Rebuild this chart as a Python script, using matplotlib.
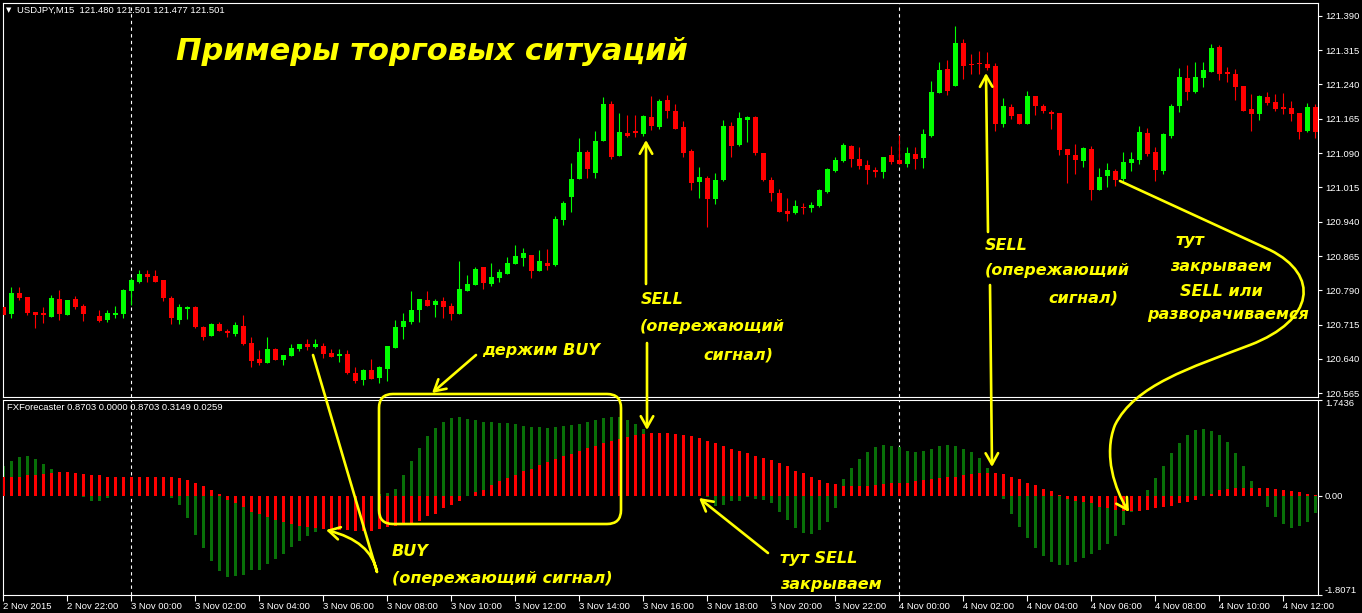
import numpy as np
import matplotlib
matplotlib.use('agg')
import matplotlib.pyplot as plt
from matplotlib.path import Path
from matplotlib.patches import FancyArrowPatch, FancyBboxPatch

# USDJPY M15 candles, 2 Nov 2015 20:00 onwards (bar 11 has no data)
opens = [120.754, 120.738, 120.784, 120.776, 120.743, 120.741, 120.732, 120.771, 120.737, 120.771,
         120.756, np.nan, 120.734, 120.725, 120.737, 120.739, 120.789, 120.808, 120.826, 120.821,
         120.813, 120.773, 120.726, 120.750, 120.754, 120.710, 120.690, 120.716, 120.701, 120.695,
         120.712, 120.675, 120.640, 120.631, 120.662, 120.638, 120.647, 120.662, 120.673, 120.666,
         120.668, 120.653, 120.647, 120.651, 120.609, 120.594, 120.616, 120.598, 120.618, 120.664,
         120.710, 120.721, 120.747, 120.769, 120.758, 120.767, 120.756, 120.738, 120.789, 120.802,
         120.841, 120.804, 120.817, 120.826, 120.848, 120.861, 120.867, 120.832, 120.850, 120.845,
         120.944, 120.994, 121.034, 121.093, 121.047, 121.117, 121.198, 121.084, 121.134, 121.139,
         121.132, 121.169, 121.147, 121.206, 121.182, 121.147, 121.095, 121.027, 121.036, 120.990,
         121.031, 121.150, 121.108, 121.163, 121.169, 121.090, 121.031, 121.003, 120.964, 120.959,
         120.972, 120.970, 120.975, 121.005, 121.051, 121.073, 121.106, 121.077, 121.064, 121.053,
         121.049, 121.086, 121.075, 121.066, 121.088, 121.080, 121.128, 121.222, 121.274, 121.237,
         121.331, 121.285, 121.285, 121.285, 121.281, 121.154, 121.191, 121.176, 121.154, 121.215,
         121.193, 121.180, 121.178, 121.099, 121.086, 121.073, 121.099, 121.010, 121.040, 121.051,
         121.034, 121.069, 121.075, 121.134, 121.093, 121.051, 121.128, 121.193, 121.254, 121.224,
         121.254, 121.268, 121.322, 121.268, 121.263, 121.237, 121.187, 121.176, 121.213, 121.202,
         121.191, 121.189, 121.178, 121.139, 121.191]
highs = [120.758, 120.797, 120.797, 120.776, 120.743, 120.754, 120.780, 120.791, 120.769, 120.778,
         120.761, np.nan, 120.747, 120.747, 120.756, 120.793, 120.817, 120.835, 120.835, 120.835,
         120.813, 120.778, 120.760, 120.756, 120.756, 120.712, 120.719, 120.721, 120.706, 120.721,
         120.736, 120.688, 120.660, 120.688, 120.664, 120.649, 120.673, 120.673, 120.684, 120.684,
         120.675, 120.662, 120.662, 120.660, 120.622, 120.618, 120.640, 120.625, 120.668, 120.725,
         120.741, 120.789, 120.771, 120.789, 120.771, 120.776, 120.762, 120.854, 120.824, 120.841,
         120.841, 120.850, 120.837, 120.863, 120.889, 120.883, 120.867, 120.878, 120.881, 120.953,
         120.985, 121.069, 121.123, 121.097, 121.139, 121.213, 121.204, 121.178, 121.174, 121.174,
         121.174, 121.215, 121.208, 121.217, 121.198, 121.160, 121.099, 121.060, 121.040, 121.047,
         121.163, 121.158, 121.180, 121.171, 121.171, 121.090, 121.038, 121.012, 120.992, 120.988,
         120.981, 120.983, 121.012, 121.058, 121.082, 121.112, 121.108, 121.104, 121.075, 121.060,
         121.082, 121.106, 121.130, 121.104, 121.104, 121.143, 121.248, 121.289, 121.294, 121.368,
         121.340, 121.307, 121.313, 121.311, 121.287, 121.211, 121.198, 121.176, 121.226, 121.215,
         121.198, 121.185, 121.178, 121.099, 121.110, 121.104, 121.106, 121.058, 121.069, 121.055,
         121.093, 121.093, 121.150, 121.145, 121.104, 121.134, 121.198, 121.276, 121.283, 121.289,
         121.289, 121.329, 121.327, 121.279, 121.274, 121.237, 121.219, 121.217, 121.224, 121.219,
         121.222, 121.204, 121.178, 121.200, 121.198]
lows = [120.732, 120.730, 120.769, 120.737, 120.708, 120.719, 120.732, 120.726, 120.737, 120.750,
        120.724, np.nan, 120.721, 120.721, 120.730, 120.730, 120.759, 120.806, 120.808, 120.808,
        120.767, 120.717, 120.717, 120.728, 120.708, 120.682, 120.690, 120.701, 120.689, 120.690,
        120.671, 120.622, 120.627, 120.631, 120.638, 120.627, 120.647, 120.657, 120.660, 120.664,
        120.642, 120.644, 120.633, 120.607, 120.587, 120.583, 120.596, 120.587, 120.592, 120.664,
        120.684, 120.716, 120.721, 120.756, 120.732, 120.730, 120.725, 120.738, 120.789, 120.802,
        120.793, 120.800, 120.808, 120.826, 120.848, 120.843, 120.817, 120.832, 120.835, 120.843,
        120.933, 120.961, 121.034, 121.036, 121.036, 121.117, 121.077, 121.084, 121.125, 121.125,
        121.128, 121.141, 121.143, 121.167, 121.143, 121.082, 121.010, 120.992, 120.929, 120.979,
        121.029, 121.082, 121.106, 121.114, 121.086, 121.029, 120.985, 120.961, 120.942, 120.957,
        120.957, 120.961, 120.972, 121.003, 121.049, 121.071, 121.060, 121.055, 121.023, 121.038,
        121.036, 121.066, 121.066, 121.060, 121.055, 121.058, 121.125, 121.222, 121.217, 121.237,
        121.252, 121.263, 121.263, 121.272, 121.139, 121.147, 121.165, 121.154, 121.154, 121.174,
        121.178, 121.143, 121.086, 121.025, 121.044, 121.060, 120.988, 121.010, 121.016, 121.018,
        121.029, 121.051, 121.066, 121.084, 121.029, 121.044, 121.123, 121.180, 121.206, 121.222,
        121.235, 121.268, 121.250, 121.246, 121.206, 121.182, 121.139, 121.163, 121.195, 121.182,
        121.176, 121.160, 121.121, 121.136, 121.123]
closes = [120.736, 120.784, 120.774, 120.741, 120.737, 120.736, 120.773, 120.739, 120.769, 120.754,
          120.739, np.nan, 120.723, 120.741, 120.741, 120.791, 120.813, 120.826, 120.819, 120.808,
          120.774, 120.730, 120.754, 120.754, 120.710, 120.688, 120.716, 120.701, 120.697, 120.714,
          120.673, 120.636, 120.631, 120.662, 120.638, 120.649, 120.664, 120.673, 120.666, 120.673,
          120.651, 120.644, 120.651, 120.609, 120.592, 120.616, 120.596, 120.622, 120.668, 120.710,
          120.723, 120.747, 120.771, 120.756, 120.767, 120.754, 120.738, 120.793, 120.804, 120.837,
          120.806, 120.819, 120.830, 120.850, 120.865, 120.872, 120.832, 120.854, 120.844, 120.946,
          120.981, 121.034, 121.093, 121.055, 121.117, 121.198, 121.082, 121.136, 121.128, 121.134,
          121.171, 121.150, 121.204, 121.182, 121.143, 121.090, 121.025, 121.038, 120.990, 121.031,
          121.150, 121.106, 121.167, 121.169, 121.090, 121.031, 121.003, 120.961, 120.957, 120.975,
          120.970, 120.977, 121.010, 121.055, 121.075, 121.108, 121.077, 121.062, 121.053, 121.049,
          121.082, 121.071, 121.066, 121.090, 121.077, 121.132, 121.224, 121.272, 121.226, 121.331,
          121.281, 121.283, 121.284, 121.276, 121.154, 121.193, 121.171, 121.154, 121.215, 121.193,
          121.182, 121.176, 121.097, 121.086, 121.075, 121.101, 121.010, 121.038, 121.053, 121.031,
          121.071, 121.077, 121.136, 121.088, 121.053, 121.132, 121.193, 121.257, 121.224, 121.257,
          121.272, 121.320, 121.263, 121.263, 121.235, 121.182, 121.176, 121.215, 121.200, 121.187,
          121.187, 121.176, 121.136, 121.191, 121.136]

# FXForecaster histogram buffers
fx_green = [0.533, 0.624, 0.691, 0.709, 0.655, 0.564, 0.473, 0.35, 0.25, 0.12,
            -0.03, -0.103, -0.103, -0.048, 0.02, 0.08, 0.1, 0.1, 0.08, 0.05,
            0.0, -0.05, -0.164, -0.406, -0.709, -0.958, -1.194, -1.364, -1.473, -1.467,
            -1.436, -1.358, -1.345, -1.236, -1.145, -1.055, -0.939, -0.830, -0.739, -0.667,
            -0.55, -0.45, -0.35, -0.25, -0.15, -0.05, 0.0, 0.02, 0.05, 0.127,
            0.364, 0.618, 0.855, 1.073, 1.218, 1.327, 1.400, 1.418, 1.382, 1.364,
            1.327, 1.327, 1.309, 1.309, 1.291, 1.255, 1.236, 1.236, 1.218, 1.236,
            1.255, 1.273, 1.291, 1.327, 1.364, 1.400, 1.418, 1.418, 1.364, 1.291,
            1.200, 1.05, 0.85, 0.65, 0.45, 0.3, 0.12, -0.018, -0.036, -0.182,
            -0.164, -0.091, -0.091, -0.036, -0.055, -0.073, -0.145, -0.291, -0.436, -0.582,
            -0.673, -0.691, -0.618, -0.473, -0.218, 0.291, 0.491, 0.655, 0.782, 0.873,
            0.909, 0.897, 0.873, 0.800, 0.782, 0.800, 0.836, 0.891, 0.909, 0.891,
            0.836, 0.782, 0.673, 0.491, 0.25, -0.055, -0.327, -0.564, -0.764, -0.945,
            -1.091, -1.200, -1.255, -1.255, -1.200, -1.127, -1.055, -0.982, -0.873, -0.727,
            -0.527, -0.3, -0.15, 0.109, 0.309, 0.527, 0.764, 0.945, 1.091, 1.182,
            1.200, 1.164, 1.091, 0.964, 0.764, 0.527, 0.255, 0.05, -0.2, -0.382,
            -0.509, -0.582, -0.545, -0.473, -0.309]
fx_red = [0.333, 0.333, 0.345, 0.364, 0.364, 0.388, 0.400, 0.418, 0.418, 0.400,
          0.382, 0.364, 0.364, 0.345, 0.345, 0.345, 0.345, 0.345, 0.345, 0.345,
          0.327, 0.327, 0.309, 0.273, 0.218, 0.164, 0.091, 0.036, -0.073, -0.145,
          -0.2, -0.291, -0.327, -0.382, -0.436, -0.473, -0.509, -0.545, -0.564, -0.582,
          -0.6, -0.6, -0.618, -0.618, -0.636, -0.636, -0.636, -0.6, -0.564, -0.545,
          -0.527, -0.5, -0.455, -0.364, -0.327, -0.236, -0.164, -0.091, -0.018, 0.055,
          0.109, 0.182, 0.255, 0.309, 0.364, 0.436, 0.473, 0.545, 0.600, 0.655,
          0.709, 0.745, 0.800, 0.855, 0.891, 0.945, 0.982, 1.018, 1.055, 1.091,
          1.109, 1.127, 1.127, 1.127, 1.109, 1.091, 1.073, 1.036, 0.982, 0.945,
          0.891, 0.836, 0.800, 0.764, 0.709, 0.673, 0.636, 0.582, 0.527, 0.436,
          0.400, 0.345, 0.273, 0.236, 0.200, 0.164, 0.164, 0.164, 0.164, 0.182,
          0.200, 0.218, 0.218, 0.236, 0.255, 0.273, 0.291, 0.309, 0.327, 0.345,
          0.364, 0.382, 0.400, 0.400, 0.400, 0.382, 0.345, 0.291, 0.236, 0.182,
          0.127, 0.073, 0.018, -0.055, -0.091, -0.109, -0.145, -0.200, -0.236, -0.255,
          -0.273, -0.273, -0.273, -0.255, -0.236, -0.200, -0.182, -0.145, -0.109, -0.073,
          -0.018, 0.036, 0.091, 0.127, 0.145, 0.145, 0.145, 0.145, 0.145, 0.127,
          0.109, 0.073, 0.055, 0.036, 0.018]

time_labels = ['2 Nov 2015', '2 Nov 22:00', '3 Nov 00:00', '3 Nov 02:00', '3 Nov 04:00',
               '3 Nov 06:00', '3 Nov 08:00', '3 Nov 10:00', '3 Nov 12:00', '3 Nov 14:00',
               '3 Nov 16:00', '3 Nov 18:00', '3 Nov 20:00', '3 Nov 22:00', '4 Nov 00:00',
               '4 Nov 02:00', '4 Nov 04:00', '4 Nov 06:00', '4 Nov 08:00', '4 Nov 10:00',
               '4 Nov 12:00']
price_ticks = [121.390, 121.315, 121.240, 121.165, 121.090, 121.015, 120.940,
               120.865, 120.790, 120.715, 120.640, 120.565]
fx_ticks = [1.7436, 0.0, -1.8071]
day_breaks = [16, 112]

W, H = 1362, 613
YEL = '#ffff00'
LBL = dict(family=['Liberation Sans', 'DejaVu Sans'], fontsize=6.8, color='white')


def rect(x0, y0, x1, y1):
    return [x0 / W, 1 - y1 / H, (x1 - x0) / W, (y1 - y0) / H]


fig = plt.figure(figsize=(W / 100, H / 100), dpi=100, facecolor='black')
ax1 = fig.add_axes(rect(3, 3, 1318, 396.5))
ax2 = fig.add_axes(rect(3, 399.5, 1318, 595))

o = np.array(opens); h = np.array(highs); l = np.array(lows); c = np.array(closes)
x = np.arange(len(o))
up = c >= o
cols = np.where(up, '#00ff00', '#ff0000')
body_lo = np.minimum(o, c)
body_h = np.maximum(np.abs(c - o), 0.0022)

for ax in (ax1, ax2):
    ax.set_facecolor('black')
    for s in ax.spines.values():
        s.set_color('white')
        s.set_linewidth(0.8)
    ax.set_xlim(-0.0375, 164.34)
    for d in day_breaks:
        ax.axvline(d, color='white', lw=0.8, ls=(0, (3, 3)), zorder=0.5)

# candles
ax1.vlines(x, l, h, colors=cols, lw=0.8, zorder=2)
ax1.bar(x, body_h, bottom=body_lo, width=0.58, color=cols, zorder=3)
ax1.set_ylim(120.558, 121.418)
ax1.yaxis.tick_right()
ax1.set_yticks(price_ticks)
ax1.set_yticklabels([f'{p:.3f}' for p in price_ticks], **LBL)
ax1.tick_params(axis='y', colors='white', length=3, width=0.8, pad=2)
ax1.set_xticks([])

# indicator
ax2.bar(x, fx_green, width=0.32, color='#087008', zorder=2)
ax2.bar(x, fx_red, width=0.42, color='#ff0000', zorder=3)
ax2.set_ylim(-1.8071, 1.7436)
ax2.yaxis.tick_right()
ax2.set_yticks(fx_ticks)
ax2.set_yticklabels(['1.7436', '0.00', '-1.8071'], **LBL)
yl = ax2.get_yticklabels()
yl[0].set_verticalalignment('top')
yl[2].set_verticalalignment('bottom')
ax2.tick_params(axis='y', colors='white', length=3, width=0.8, pad=2)
ax2.set_xticks(np.arange(len(time_labels)) * 8)
ax2.set_xticklabels(time_labels, **LBL)
for t in ax2.get_xticklabels():
    t.set_horizontalalignment('left')
ax2.tick_params(axis='x', colors='white', length=4, width=0.8, pad=1)

# overlay in pixel coordinates for the hand-drawn notes
ov = fig.add_axes([0, 0, 1, 1])
ov.set_xlim(0, W)
ov.set_ylim(H, 0)
ov.axis('off')
ov.patch.set_alpha(0)

ov.text(6, 10, '\u25bc', color='white', fontsize=5, va='center', family='DejaVu Sans')
ov.text(17, 10, 'USDJPY,M15  121.480 121.501 121.477 121.501', va='center', **LBL)
ov.text(7, 408, 'FXForecaster 0.8703 0.0000 0.8703 0.3149 0.0259', va='center', **LBL)

NOTE = dict(color=YEL, fontweight='bold', style='italic', family='DejaVu Sans',
            va='center', ha='left', fontsize=11.5)
ov.text(176, 52, 'Примеры торговых ситуаций', color=YEL, fontweight='bold',
        style='italic', family='DejaVu Sans', va='center', ha='left', fontsize=22)
ov.text(482, 350, 'держим BUY', **NOTE)
ov.text(641, 300, 'SELL', **NOTE)
ov.text(640, 327, '(опережающий', **NOTE)
ov.text(703, 355, 'сигнал)', **NOTE)
ov.text(985, 245, 'SELL', **NOTE)
ov.text(985, 271, '(опережающий', **NOTE)
ov.text(1048, 298, 'сигнал)', **NOTE)
ov.text(1175, 240, 'тут', **NOTE)
ov.text(1170, 266, 'закрываем', **NOTE)
ov.text(1180, 292, 'SELL или', **NOTE)
ov.text(1147, 314, 'разворачиваемся', **NOTE)
ov.text(392, 552, 'BUY', **NOTE)
ov.text(392, 578, '(опережающий сигнал)', **NOTE)
ov.text(780, 558, 'тут SELL', **NOTE)
ov.text(780, 585, 'закрываем', **NOTE)

AST = '->,head_length=0.8,head_width=0.45'


def straight(p0, p1):
    ov.annotate('', xy=p1, xytext=p0,
                arrowprops=dict(arrowstyle=AST, color=YEL, lw=1.9, shrinkA=0, shrinkB=0))


def curved(verts, codes):
    ov.add_patch(FancyArrowPatch(path=Path(verts, codes), arrowstyle=AST, color=YEL,
                                 lw=1.9, mutation_scale=10))


straight((476, 355), (432, 393))
straight((646, 284), (646, 140))
straight((647, 343), (647, 430))
straight((988, 232), (986, 73))
straight((990, 285), (992, 467))
straight((768, 553), (699, 498))
curved([(313, 355), (377, 572), (371, 541), (326, 530)],
       [Path.MOVETO, Path.LINETO, Path.CURVE3, Path.CURVE3])
curved([(1120, 181), (1270, 250), (1320, 275), (1315, 320), (1250, 345),
        (1190, 368), (1135, 385), (1115, 425), (1103, 455), (1115, 490), (1129, 512)],
       [Path.MOVETO, Path.LINETO] + [Path.CURVE4] * 9)
ov.add_patch(FancyBboxPatch((379, 394), 242, 130, boxstyle='round,pad=0,rounding_size=14',
                            fill=False, ec=YEL, lw=1.9))

fig.savefig('out.png', dpi=100, facecolor='black')
